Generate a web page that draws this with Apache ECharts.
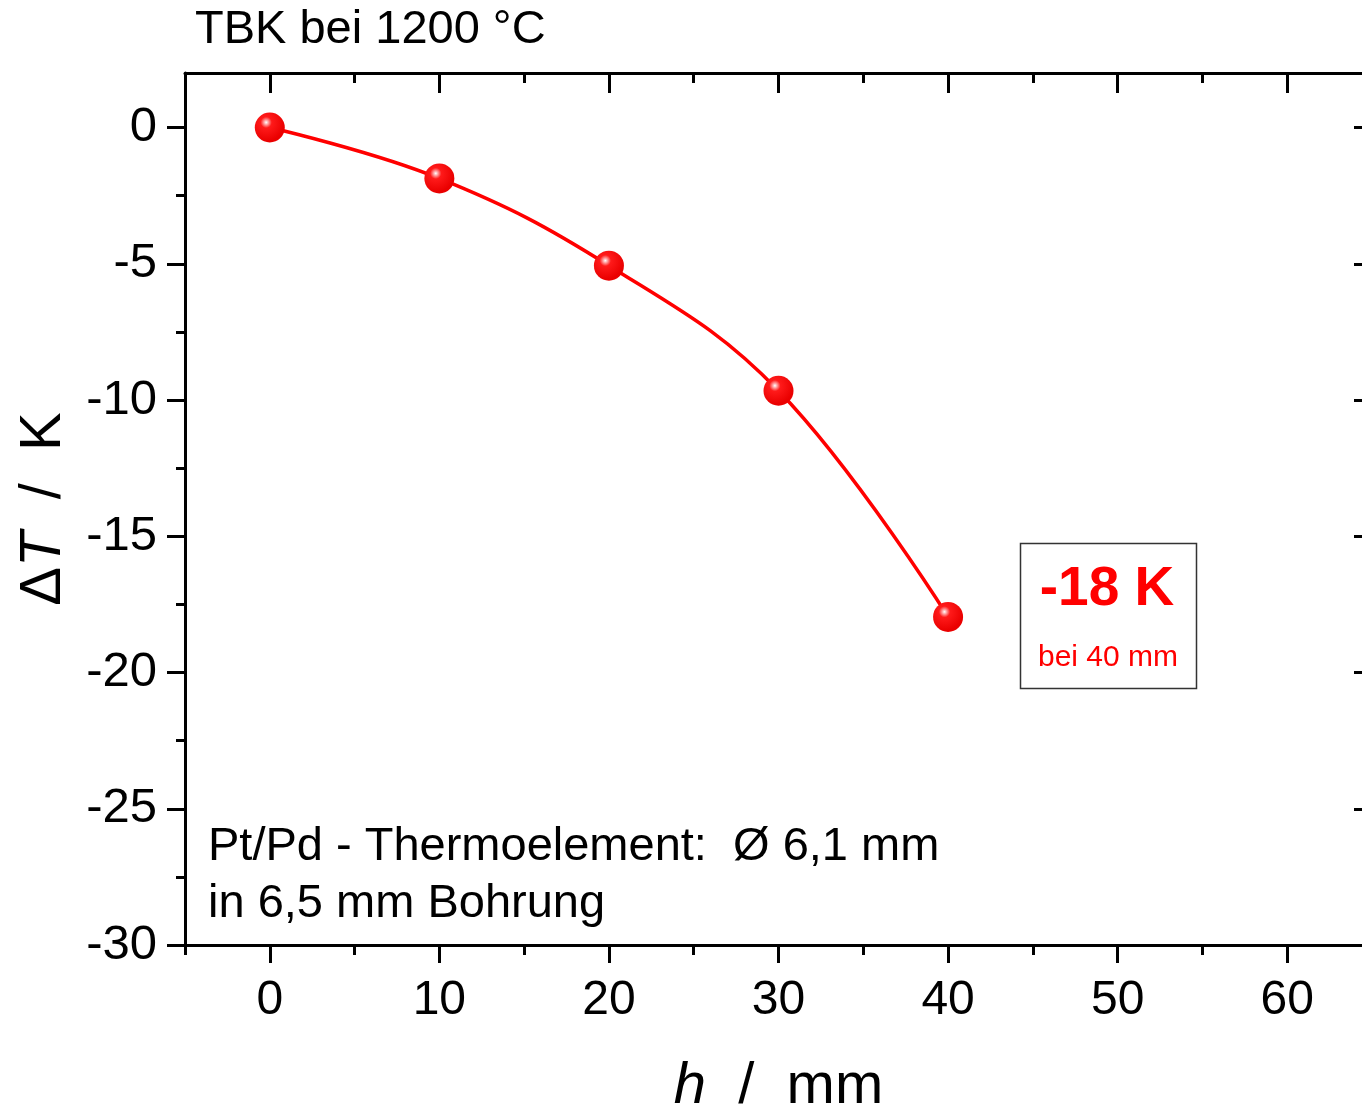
<!DOCTYPE html>
<html>
<head>
<meta charset="utf-8">
<title>TBK bei 1200 °C</title>
<script src="https://cdn.jsdelivr.net/npm/echarts@6/dist/echarts.min.js"></script>
<style>
  html, body { margin: 0; padding: 0; background: #fff; }
  #chart { width: 1362px; height: 1108px; }
</style>
</head>
<body>
<div id="chart"></div>
<script>
// Messwerte: Höhe h in mm, Temperaturdifferenz in K
const hValues = [0, 10, 20, 30, 40]
const deltaT = [0, -1.87, -5.07, -9.66, -17.96]

// Achsen-Ticks
const xMajorTicks = [0, 10, 20, 30, 40, 50, 60]
const xMinorTicks = [-5, 5, 15, 25, 35, 45, 55, 65]
const yMajorTicks = [-30, -25, -20, -15, -10, -5, 0]
const yMinorTicks = [-27.5, -22.5, -17.5, -12.5, -7.5, -2.5]

const FONT = '"Liberation Sans", Arial, sans-serif'
const RED = '#ff0000'

let chart = null

// eine Achse mit festen Ticks bauen
const makeAxis = (dim, position, ticks, len, opts) => {
  const base = {
    type: 'value',
    position: position,
    min: dim === 'x' ? -5 : -30,
    max: dim === 'x' ? 65 : 2,
    splitLine: { show: false },
    axisLine: { show: !!opts.line, onZero: false, lineStyle: { color: '#000', width: 3 } },
    axisTick: {
      show: true,
      inside: !!opts.inside,
      length: len,
      customValues: ticks,
      lineStyle: { color: '#000', width: 3 }
    },
    axisLabel: { show: false }
  }
  if (opts.labels) {
    base.axisLabel = {
      show: true,
      customValues: ticks,
      color: '#000',
      fontFamily: FONT,
      fontSize: dim === 'x' ? 48 : 49,
      margin: dim === 'x' ? 32 : 28
    }
  }
  return Object.assign(base, opts.extra || {})
}

const nameStyle = {
  color: '#000',
  fontFamily: FONT,
  fontSize: 58,
  rich: {
    i: { fontStyle: 'italic', fontFamily: FONT, fontSize: 58, color: '#000' }
  }
}

const setOptions = () => {
  chart.setOption({
    animation: false,
    grid: { left: 185, top: 73, width: 1187, height: 872, outerBoundsMode: 'none' },
    xAxis: [
      makeAxis('x', 'bottom', xMajorTicks, 18, {
        line: true,
        labels: true,
        extra: {
          name: '{i|h}  /  mm',
          nameLocation: 'middle',
          nameGap: 113,
          nameTextStyle: nameStyle
        }
      }),
      makeAxis('x', 'bottom', xMinorTicks, 10, {}),
      makeAxis('x', 'top', xMajorTicks, 20, { line: true, inside: true }),
      makeAxis('x', 'top', xMinorTicks, 10, { inside: true })
    ],
    yAxis: [
      makeAxis('y', 'left', yMajorTicks, 18, {
        line: true,
        labels: true,
        extra: {
          name: 'Δ{i|T}  /  K',
          nameLocation: 'middle',
          nameGap: 112,
          nameTextStyle: nameStyle
        }
      }),
      makeAxis('y', 'left', yMinorTicks, 9, {}),
      makeAxis('y', 'right', yMajorTicks, 18, { line: true, inside: true }),
      makeAxis('y', 'right', yMinorTicks, 10, { inside: true })
    ],
    series: [
      {
        type: 'line',
        xAxisIndex: 0,
        yAxisIndex: 0,
        data: hValues.map((h, i) => [h, deltaT[i]]),
        smooth: 0.4,
        symbol: 'circle',
        symbolSize: 30,
        lineStyle: { color: RED, width: 3.5 },
        itemStyle: {
          color: new echarts.graphic.RadialGradient(0.38, 0.33, 0.62, [
            { offset: 0, color: '#ffffff' },
            { offset: 0.1, color: '#ffb0b0' },
            { offset: 0.3, color: '#ff1a1a' },
            { offset: 1, color: '#ea0000' }
          ])
        },
        z: 5
      }
    ],
    graphic: [
      {
        type: 'text',
        left: 195,
        top: 7,
        style: { text: 'TBK bei 1200 °C', fill: '#000', font: '47px ' + FONT }
      },
      {
        type: 'text',
        left: 208,
        top: 819,
        style: {
          text: 'Pt/Pd - Thermoelement:  Ø 6,1 mm\nin 6,5 mm Bohrung',
          fill: '#000',
          font: '47px ' + FONT,
          lineHeight: 57
        }
      },
      {
        type: 'rect',
        shape: { x: 1020.5, y: 543.5, width: 176, height: 145 },
        style: { fill: '#fff', stroke: '#333', lineWidth: 1.5 }
      },
      {
        type: 'text',
        x: 1107,
        y: 590,
        style: {
          text: '-18 K',
          fill: RED,
          font: 'bold 55px ' + FONT,
          align: 'center',
          verticalAlign: 'middle'
        }
      },
      {
        type: 'text',
        x: 1108,
        y: 658,
        style: {
          text: 'bei 40 mm',
          fill: RED,
          font: '30px ' + FONT,
          align: 'center',
          verticalAlign: 'middle'
        }
      }
    ]
  })
}

const initChart = () => {
  chart = echarts.init(document.getElementById('chart'), null, { renderer: 'canvas' })
  setOptions()
}

initChart()
</script>
</body>
</html>
